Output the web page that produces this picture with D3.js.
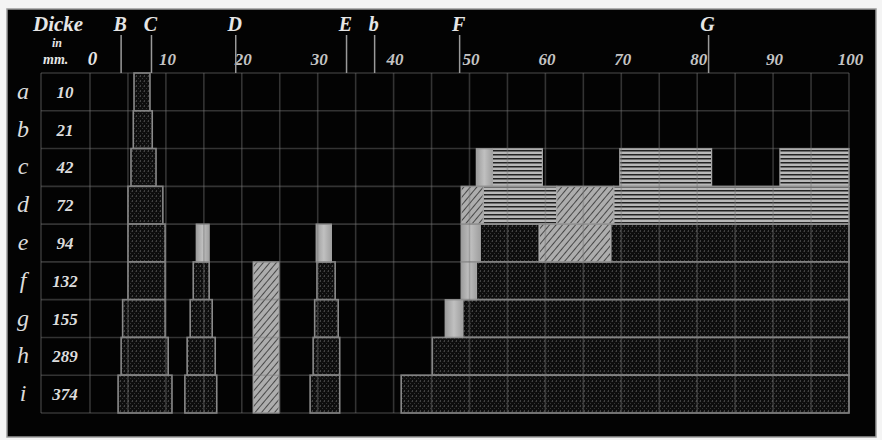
<!DOCTYPE html>
<html>
<head>
<meta charset="utf-8">
<script src="https://cdn.jsdelivr.net/npm/d3@7/dist/d3.min.js"></script>
<style>
  html, body { margin: 0; padding: 0; background: #f4f4f4; }
  svg { display: block; }
</style>
</head>
<body>
<svg id="chart" width="882" height="440"></svg>
<script>
// ---------- data ----------
const rows = ["a", "b", "c", "d", "e", "f", "g", "h", "i"];
const thickness = ["10", "21", "42", "72", "94", "132", "155", "289", "374"];
const tickValues = [0, 10, 20, 30, 40, 50, 60, 70, 80, 90, 100];
const lineNames = ["B", "C", "D", "E", "b", "F", "G"];
const linePos = [4.1, 8.1, 19.2, 33.8, 37.5, 48.7, 81.5];

// bands: [firstRow, lastRow, from, to]  (scale 0..100)
const darkBands = [
  ["a", "a", 5.8, 7.9],
  ["b", "b", 5.7, 8.2],
  ["c", "c", 5.4, 8.7],
  ["d", "d", 5.0, 9.6],
  ["e", "e", 5.0, 9.9],
  ["e", "e", 51.4, 59.2],
  ["e", "e", 68.6, 100],
  ["f", "f", 5.0, 9.9],
  ["f", "f", 13.6, 15.7],
  ["f", "f", 29.9, 32.3],
  ["f", "f", 50.9, 100],
  ["g", "g", 4.3, 9.9],
  ["g", "g", 13.2, 16.1],
  ["g", "g", 29.6, 32.7],
  ["g", "g", 49.1, 100],
  ["h", "h", 4.1, 10.3],
  ["h", "h", 12.8, 16.5],
  ["h", "h", 29.4, 32.9],
  ["h", "h", 45.1, 100],
  ["i", "i", 3.7, 10.8],
  ["i", "i", 12.5, 16.7],
  ["i", "i", 29.0, 32.9],
  ["i", "i", 41.0, 100]
];
const lightBands = [
  ["c", "c", 50.9, 53.0],
  ["e", "e", 14.0, 15.7],
  ["e", "e", 29.8, 31.8],
  ["e", "e", 48.9, 51.4],
  ["f", "f", 48.9, 50.9],
  ["g", "g", 46.8, 49.1]
];
const diagBands = [
  ["d", "d", 48.9, 51.8],
  ["d", "d", 61.5, 69.0],
  ["e", "e", 59.2, 68.6],
  ["f", "i", 21.5, 24.9]
];
const horizBands = [
  ["c", "c", 53.0, 59.6],
  ["c", "c", 69.8, 81.9],
  ["c", "c", 90.9, 100],
  ["d", "d", 51.8, 61.5],
  ["d", "d", 69.0, 100]
];

// ---------- drawing ----------
const svg = d3.select("#chart");
const x = d3.scaleLinear().domain([0, 100]).range([90, 849]);
const y = d3.scaleBand().domain(rows).range([73, 413]);
const serif = "'Liberation Serif', 'DejaVu Serif', serif";

// patterns
const defs = svg.append("defs");
const pDark = defs.append("pattern").attr("id", "pDark")
  .attr("patternUnits", "userSpaceOnUse").attr("width", 4).attr("height", 5);
pDark.append("rect").attr("width", 4).attr("height", 5).attr("fill", "#0e0e0e");
pDark.append("rect").attr("x", 0).attr("y", 0).attr("width", 1).attr("height", 2).attr("fill", "#424242");
pDark.append("rect").attr("x", 2).attr("y", 3).attr("width", 1).attr("height", 1).attr("fill", "#363636");
pDark.append("rect").attr("x", 3).attr("y", 1).attr("width", 1).attr("height", 1).attr("fill", "#262626");

const pHoriz = defs.append("pattern").attr("id", "pHoriz")
  .attr("patternUnits", "userSpaceOnUse").attr("width", 8).attr("height", 4);
pHoriz.append("rect").attr("width", 8).attr("height", 4).attr("fill", "#b8b8b8");
pHoriz.append("rect").attr("y", 2).attr("width", 8).attr("height", 1.5).attr("fill", "#222");

const pDiag = defs.append("pattern").attr("id", "pDiag")
  .attr("patternUnits", "userSpaceOnUse").attr("width", 5).attr("height", 5)
  .attr("patternTransform", "rotate(40)");
pDiag.append("rect").attr("width", 5).attr("height", 5).attr("fill", "#adadad");
pDiag.append("rect").attr("x", 0).attr("width", 0.9).attr("height", 5).attr("fill", "#3c3c3c");

const gLight = defs.append("linearGradient").attr("id", "gLight")
  .attr("x1", 0).attr("x2", 1).attr("y1", 0).attr("y2", 0);
gLight.append("stop").attr("offset", "0%").attr("stop-color", "#9c9c9c");
gLight.append("stop").attr("offset", "50%").attr("stop-color", "#c0c0c0");
gLight.append("stop").attr("offset", "100%").attr("stop-color", "#a0a0a0");

// black panel
svg.append("rect").attr("x", 7).attr("y", 9).attr("width", 869).attr("height", 428)
  .attr("fill", "#030303").attr("stroke", "#9a9a9a").attr("stroke-width", 1.5);

// header texts
const header = svg.append("g").attr("font-family", serif).attr("font-style", "italic")
  .attr("font-weight", "bold").attr("fill", "#e6e6e6");
header.append("text").attr("x", 33).attr("y", 31).attr("font-size", 21).text("Dicke");
header.append("text").attr("x", 52).attr("y", 47).attr("font-size", 12).text("in");
header.append("text").attr("x", 43).attr("y", 64).attr("font-size", 14).text("mm.");

// axis tick labels
const axis = d3.axisTop(x).tickValues(tickValues).tickSize(0).tickPadding(0)
  .tickFormat(d3.format("d"));
const gAxis = svg.append("g").attr("transform", "translate(0,65)").call(axis);
gAxis.select(".domain").remove();
gAxis.selectAll("text")
  .attr("font-family", serif).attr("font-style", "italic").attr("font-weight", "bold")
  .attr("font-size", (d) => d === 0 ? 19 : 17)
  .attr("fill", (d) => d === 0 ? "#e6e6e6" : "#c4c4c4")
  .attr("dy", 0)
  .attr("dx", (d) => d === 0 ? 2 : 1);

// band drawing helper
function drawBands(data, fill, stroke, sw) {
  svg.append("g").selectAll("rect").data(data).join("rect")
    .attr("x", (d) => x(d[2]))
    .attr("y", (d) => y(d[0]))
    .attr("width", (d) => x(d[3]) - x(d[2]))
    .attr("height", (d) => y(d[1]) + y.bandwidth() - y(d[0]))
    .attr("fill", fill)
    .attr("stroke", stroke)
    .attr("stroke-width", sw);
}
drawBands(darkBands, "url(#pDark)", "#8a8a8a", 1.6);
drawBands(horizBands, "url(#pHoriz)", "#a8a8a8", 1.2);
drawBands(diagBands, "url(#pDiag)", "#a8a8a8", 1.2);
drawBands(lightBands, "url(#gLight)", "#a4a4a4", 1.2);

// grid
const grid = svg.append("g").attr("stroke", "rgba(120,120,120,0.42)").attr("stroke-width", 1.6);
grid.selectAll("line.v").data(d3.range(0, 101, 5)).join("line")
  .attr("x1", (d) => x(d)).attr("x2", (d) => x(d))
  .attr("y1", 73).attr("y2", 413);
grid.append("line").attr("x1", 41).attr("x2", 41).attr("y1", 73).attr("y2", 413);
grid.selectAll("line.h").data(rows.map((r) => y(r)).concat([413])).join("line")
  .attr("x1", 41).attr("x2", x(100))
  .attr("y1", (d) => d).attr("y2", (d) => d);

// Fraunhofer lines
const fl = svg.append("g");
fl.selectAll("line").data(linePos).join("line")
  .attr("x1", (d) => x(d)).attr("x2", (d) => x(d))
  .attr("y1", 35).attr("y2", 73)
  .attr("stroke", "#9a9a9a").attr("stroke-width", 1.5);
fl.selectAll("text").data(lineNames).join("text")
  .attr("x", (d, i) => x(linePos[i]) - 1)
  .attr("y", 31)
  .attr("text-anchor", "middle")
  .attr("font-family", serif).attr("font-style", "italic").attr("font-weight", "bold")
  .attr("font-size", 20).attr("fill", "#e6e6e6")
  .text((d) => d);

// row labels
const rl = svg.append("g").attr("font-family", serif).attr("font-style", "italic");
rl.selectAll("text.l").data(rows).join("text").attr("class", "l")
  .attr("x", 23).attr("y", (d) => y(d) + y.bandwidth() / 2 + 7)
  .attr("text-anchor", "middle").attr("font-size", 24).attr("fill", "#dcdcdc")
  .text((d) => d);
rl.selectAll("text.n").data(thickness).join("text").attr("class", "n")
  .attr("x", 65).attr("y", (d, i) => y(rows[i]) + y.bandwidth() / 2 + 6)
  .attr("text-anchor", "middle").attr("font-size", 17).attr("font-weight", "bold")
  .attr("fill", "#dcdcdc")
  .text((d) => d);
</script>
</body>
</html>
